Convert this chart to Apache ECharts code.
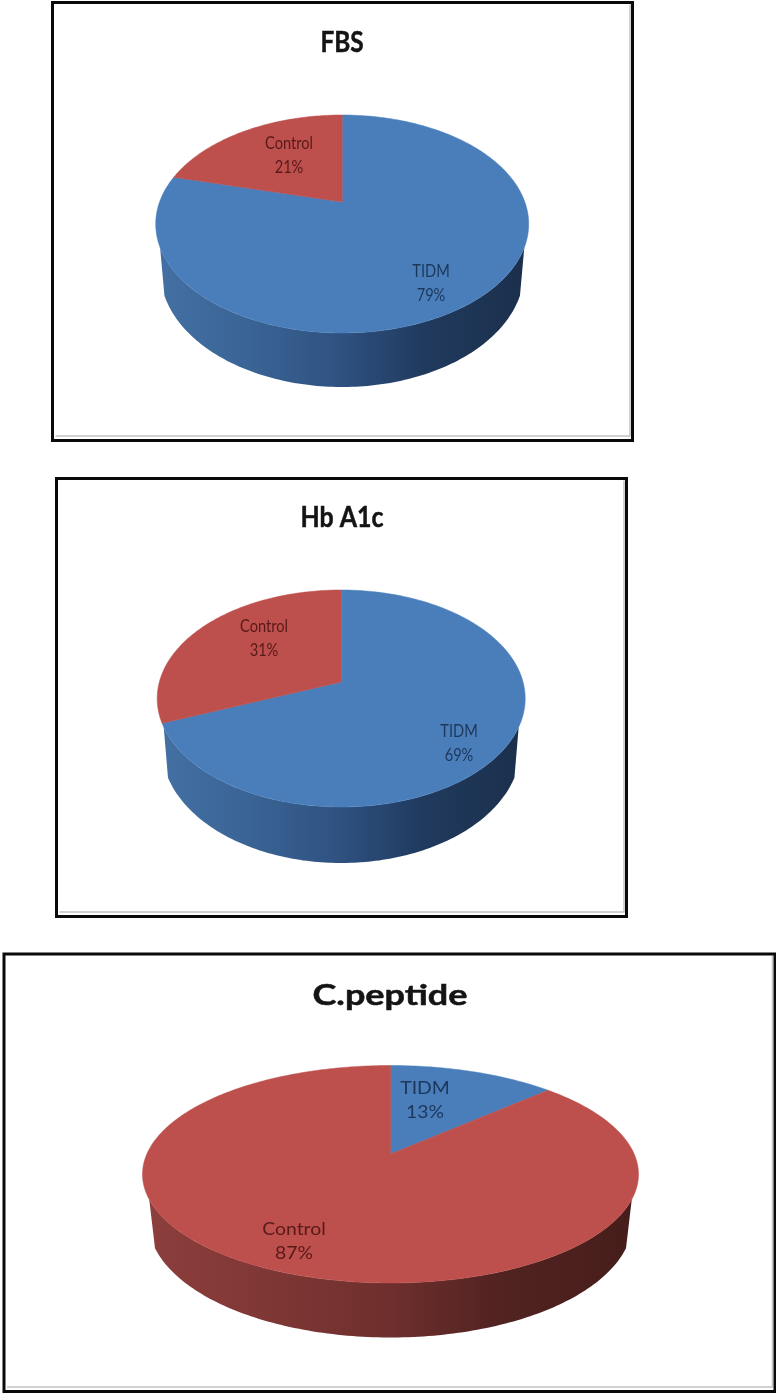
<!DOCTYPE html>
<html>
<head>
<meta charset="utf-8">
<title>FBS, Hb A1c and C.peptide share</title>
<style>
  html, body { margin: 0; padding: 0; background: #fff; }
  #chart { width: 776px; height: 1394px; }
</style>
<script src="https://cdn.jsdelivr.net/npm/echarts@6/dist/echarts.min.js"></script>
</head>
<body>
<div id="chart"></div>
<script>
// Percent share per group; slices run clockwise from twelve o'clock.
const groups = ['TIDM', 'Control'];
const titles = ['FBS', 'Hb A1c', 'C.peptide'];
const fbsValues = [79, 21];
const hba1cValues = [69, 31];
const cpeptideValues = [13, 87];

// Colours per group: top face, label ink, side-wall shading left to right.
const groupStyle = {
  TIDM: {
    top: '#4a7ebb', ink: '#17304f',
    wall: ['#4470a4', '#3a6495', '#2e5180', '#203a5e', '#1b2f4b']
  },
  Control: {
    top: '#bd4f4c', ink: '#4d1414',
    wall: ['#8d3f3c', '#7f3735', '#6e2f2d', '#512321', '#461d1a']
  }
};
const wallStops = [0, 0.25, 0.5, 0.72, 1];

// Frame box, tilted disc geometry and text placement for each panel.
const panels = [
  {
    values: fbsValues,
    frame: { left: 52.5, top: 2.5, right: 632.5, bottom: 440.5 },
    disc: { cx: 342.2, hub: 202, top: 115, near: 333, base: 387, halfWidth: 186.5 },
    title: { x: 342, y: 43, scaleX: 0.84 },
    labels: [{ x: 431, y: 284 }, { x: 289, y: 155.5 }],
    labelScaleX: 0.86
  },
  {
    values: hba1cValues,
    frame: { left: 56.5, top: 478.5, right: 626.5, bottom: 916.5 },
    disc: { cx: 341.2, hub: 682, top: 590, near: 807, base: 863, halfWidth: 184 },
    title: { x: 342, y: 518, scaleX: 0.86 },
    labels: [{ x: 459, y: 744 }, { x: 264, y: 639 }],
    labelScaleX: 0.86
  },
  {
    values: cpeptideValues,
    frame: { left: 4, top: 954, right: 775, bottom: 1391.5 },
    disc: { cx: 390.5, hub: 1154, top: 1065.5, near: 1283, base: 1337.5, halfWidth: 248 },
    title: { x: 390, y: 995.5, scaleX: 1.24 },
    labels: [{ x: 425, y: 1101 }, { x: 294, y: 1241.5 }],
    labelScaleX: 1.14
  }
];

const FONT = 'Lato, "Liberation Sans", sans-serif';
// The lower rim sits further from the viewer: slightly narrower, slightly rounder.
const BASE_WIDTH = 0.976;
const BASE_DEPTH = 1.068;
// Depth on the unit disc at which the side wall comes into view.
const WALL_DEPTH = 0.4;

// Perspective projection of the unit disc: near points spread further from the hub.
function makeProjector(disc) {
  const up = disc.hub - disc.top;
  const down = disc.near - disc.hub;
  const k = (down - up) / (down + up);
  const b = up * (1 + k);
  const a = disc.halfWidth * Math.sqrt(1 - k * k);
  const baseDrop = disc.base - disc.hub - (b * BASE_DEPTH) / (1 - k);
  const project = function (angle, sx, sy, drop) {
    const u = Math.sin(angle);
    const d = -Math.cos(angle);
    const w = 1 - k * d;
    return [disc.cx + (a * sx * u) / w, disc.hub + drop + (b * sy * d) / w];
  };
  return {
    rim: function (angle) { return project(angle, 1, 1, 0); },
    base: function (angle) { return project(angle, BASE_WIDTH, BASE_DEPTH, baseDrop); },
    wallFrom: Math.acos(-WALL_DEPTH),
    wallTo: 2 * Math.PI - Math.acos(-WALL_DEPTH)
  };
}

function arcPoints(fn, from, to) {
  const steps = Math.max(2, Math.ceil(Math.abs(to - from) / (Math.PI / 180)));
  const pts = [];
  for (let i = 0; i <= steps; i++) {
    pts.push(fn(from + ((to - from) * i) / steps));
  }
  return pts;
}

function pieRenderer(panel) {
  const proj = makeProjector(panel.disc);
  const total = panel.values.reduce(function (s, v) { return s + v; }, 0);
  return function (params, api) {
    const index = params.dataIndex;
    const before = panel.values.slice(0, index).reduce(function (s, v) { return s + v; }, 0);
    const value = api.value(0);
    const from = (before / total) * 2 * Math.PI;
    const to = ((before + value) / total) * 2 * Math.PI;
    const name = groups[index];
    const style = groupStyle[name];
    const children = [];

    // Side wall: only the part of the slice facing the viewer.
    const wallA = Math.max(from, proj.wallFrom);
    const wallB = Math.min(to, proj.wallTo);
    if (wallB > wallA) {
      const pts = arcPoints(proj.rim, wallA, wallB)
        .concat(arcPoints(proj.base, wallB, wallA));
      const x0 = panel.disc.cx - panel.disc.halfWidth;
      const x1 = panel.disc.cx + panel.disc.halfWidth;
      const colorStops = style.wall.map(function (color, i) {
        return { offset: wallStops[i], color: color };
      });
      children.push({
        type: 'polygon',
        shape: { points: pts },
        style: { fill: new echarts.graphic.LinearGradient(x0, 0, x1, 0, colorStops, true) }
      });
    }

    // Top face of the slice.
    const hub = [panel.disc.cx, panel.disc.hub];
    children.push({
      type: 'polygon',
      z2: 2,
      shape: { points: [hub].concat(arcPoints(proj.rim, from, to)) },
      style: { fill: style.top, stroke: style.top, lineWidth: 0.5 }
    });

    // Category name and percentage.
    const label = panel.labels[index];
    children.push({
      type: 'text',
      z2: 3,
      x: label.x,
      y: label.y,
      scaleX: panel.labelScaleX,
      style: {
        text: name + '\n' + value + '%',
        x: 0, y: 0,
        align: 'center',
        verticalAlign: 'middle',
        lineHeight: 24,
        font: '17px ' + FONT,
        fill: style.ink,
        opacity: 0.9
      }
    });
    return { type: 'group', children: children };
  };
}

const frameGraphics = [];
panels.forEach(function (panel, i) {
  const f = panel.frame;
  frameGraphics.push({
    type: 'polyline',
    shape: { points: [[f.left + 3, f.bottom - 4.5], [f.right - 2.5, f.bottom - 4.5], [f.right - 2.5, f.top + 2]] },
    style: { stroke: '#c4c4c4', lineWidth: 1.5, fill: 'none' }
  });
  frameGraphics.push({
    type: 'rect',
    shape: { x: f.left, y: f.top, width: f.right - f.left, height: f.bottom - f.top },
    style: { fill: 'transparent', stroke: '#0a0a0a', lineWidth: 3 }
  });
  frameGraphics.push({
    type: 'text',
    x: panel.title.x,
    y: panel.title.y,
    scaleX: panel.title.scaleX,
    style: {
      text: titles[i],
      x: 0, y: 0,
      align: 'center',
      verticalAlign: 'middle',
      font: 'bold 29px ' + FONT,
      fill: '#141414',
      stroke: '#141414',
      lineWidth: 0.5
    }
  });
});

const chart = echarts.init(document.getElementById('chart'));
chart.setOption({
  animation: false,
  backgroundColor: '#ffffff',
  graphic: { elements: frameGraphics },
  series: panels.map(function (panel, i) {
    return {
      type: 'custom',
      name: titles[i],
      coordinateSystem: 'none',
      clip: false,
      silent: true,
      renderItem: pieRenderer(panel),
      data: panel.values.map(function (v) { return [v]; })
    };
  })
});
</script>
</body>
</html>
